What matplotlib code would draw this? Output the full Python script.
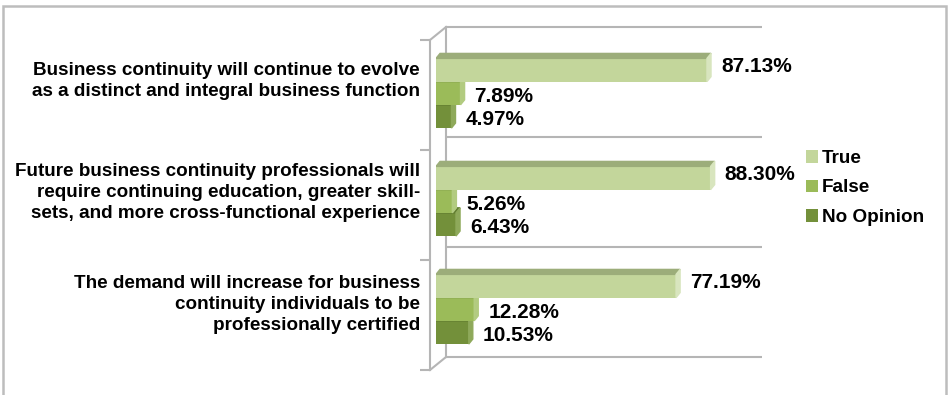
import matplotlib.pyplot as plt
from matplotlib.patches import Polygon, Rectangle, Patch

# ------- DATA -------
categories = [
    "Business continuity will continue to evolve\nas a distinct and integral business function",
    "Future business continuity professionals will\nrequire continuing education, greater skill-\nsets, and more cross-functional experience",
    "The demand will increase for business\ncontinuity individuals to be\nprofessionally certified",
]
series = ["True", "False", "No Opinion"]
true_pct = [87.13, 88.30, 77.19]
false_pct = [7.89, 5.26, 12.28]
no_opinion_pct = [4.97, 6.43, 10.53]

# ------- STYLE -------
front_colors = ["#c3d69b", "#9bbb59", "#73903a"]
top_colors = ["#9cad7a", "#809b4a", "#5f7a2e"]
side_colors = ["#d8e5be", "#b2cb80", "#8ea95a"]
wall_color = "#b5b5b5"

plt.rcParams["font.family"] = ["Liberation Sans", "DejaVu Sans"]
plt.rcParams["font.weight"] = "bold"

W, H = 948, 395
fig = plt.figure(figsize=(W / 100, H / 100), dpi=100)


def box(left, top, right, bottom):
    # pixel box -> figure fraction rect
    return [left / W, 1 - bottom / H, (right - left) / W, (bottom - top) / H]


# outer chart border
fig.add_artist(Rectangle((2.5 / W, -0.1), (943 / W), 1.1 - 5.5 / H,
                         transform=fig.transFigure, fill=False,
                         edgecolor="#bdbdbd", linewidth=1.8))

# ------- WALLS (front plane axes) -------
axw = fig.add_axes(box(430, 40, 746, 370))
axw.set_xlim(0, 100)
axw.set_ylim(3, 0)
axw.patch.set_visible(False)
for s in ["top", "right", "bottom"]:
    axw.spines[s].set_visible(False)
axw.spines["left"].set_color(wall_color)
axw.spines["left"].set_linewidth(1.5)
axw.set_xticks([])
axw.set_yticks(range(4))
axw.set_yticklabels([])
axw.tick_params(axis="y", length=7.2, width=1.5, color=wall_color)

# back wall sits up and to the right of the front plane
bx, by = 5.06, 0.118
line_kw = dict(color=wall_color, linewidth=1.5, clip_on=False)
axw.plot([bx, bx], [-by, 3 - by], **line_kw)
axw.hlines([k - by for k in range(4)], bx, 100 + bx, **line_kw)
axw.plot([0, bx], [0, -by], **line_kw)
axw.plot([0, bx], [3, 3 - by], **line_kw)

for i, cat in enumerate(categories):
    axw.annotate(cat, xy=(0, i + 0.375 + 0.015 * i), xytext=(-10, 0),
                 textcoords="offset pixels", ha="right", va="center",
                 multialignment="right", fontsize=13.6, linespacing=1.3,
                 annotation_clip=False)

# ------- BARS -------
ax = fig.add_axes(box(436, 35, 747, 359))
ax.set_xlim(0, 100)
ax.set_ylim(3, 0)
ax.axis("off")

step = 0.215
dx, dy = 1.3, 0.046
values = [true_pct, false_pct, no_opinion_pct]
label_shift = [3, -3, -3]

# draw lower series first so the upper bars cover their top faces
for k in [2, 1, 0]:
    ys = [i + 0.324 + k * step for i in range(len(categories))]
    ax.barh(ys, values[k], height=step, color=front_colors[k], zorder=3 - k,
            label=series[k])
    for y, v in zip(ys, values[k]):
        top, bot = y - step / 2, y + step / 2
        ax.add_patch(Polygon([(0, top), (v, top), (v + dx, top - dy), (dx, top - dy)],
                             closed=True, color=top_colors[k], zorder=3 - k))
        ax.add_patch(Polygon([(v, top), (v, bot), (v + dx, bot - dy), (v + dx, top - dy)],
                             closed=True, color=side_colors[k], zorder=3 - k))
        ax.annotate(f"{v:.2f}%", xy=(v, y), xytext=(14, label_shift[k]),
                    textcoords="offset pixels", va="center", ha="left",
                    fontsize=15, annotation_clip=False)

# ------- LEGEND -------
handles = [Patch(facecolor=c) for c in front_colors]
fig.legend(handles, series, loc="center left", bbox_to_anchor=(806 / W, 1 - 188 / H),
           frameon=False, fontsize=13.6, handlelength=0.63, handleheight=0.63,
           handletextpad=0.21, labelspacing=0.66, borderpad=0, borderaxespad=0)

fig.savefig("out.png", dpi=100)
